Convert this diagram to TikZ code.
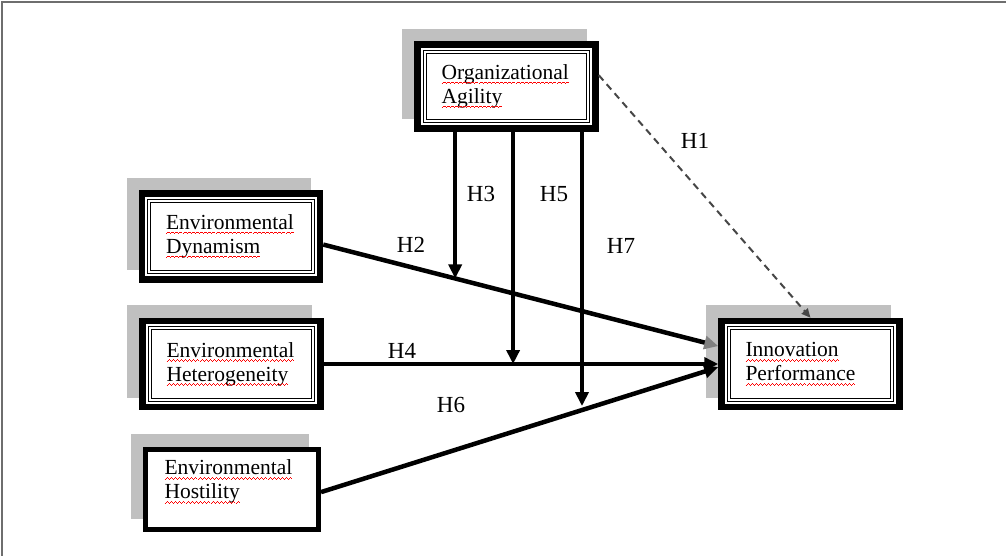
\documentclass[tikz,border=0pt]{standalone}
\usepackage{fontspec}
\setmainfont{Liberation Serif}
\usetikzlibrary{arrows.meta,backgrounds}

% red spell-check wave under a word
\newsavebox\wordbox
\newcommand\wavebit{\rule[-4.4pt]{1pt}{.8pt}\rule[-3.6pt]{1pt}{.8pt}\rule[-2.8pt]{1pt}{.8pt}\rule[-3.6pt]{1pt}{.8pt}}
\newcommand\wavy[1]{\leavevmode\sbox\wordbox{#1}\rlap{\usebox\wordbox}\textcolor{red}{\hbox to\wd\wordbox{\xleaders\hbox{\wavebit}\hfill}}}

\definecolor{shadowgray}{RGB}{192,192,192}
\definecolor{dashgray}{RGB}{70,70,70}
\definecolor{framegray}{RGB}{110,110,110}

\tikzset{
  factor/.style={draw, fill=white, rectangle, line width=6.5pt, minimum width=178pt, minimum height=86pt,
    inner xsep=24pt, text width=130pt, align=left, font=\fontsize{21.5}{24}\selectfont},
  hyp/.style={line width=4.5pt, -{Triangle[length=14pt,width=13pt]}},
  hlabel/.style={font=\fontsize{23}{23}\selectfont},
}

\begin{document}
\begin{tikzpicture}[x=1pt, y=-1pt]
    \useasboundingbox (0,0) rectangle (1006,556);
    \draw[framegray, line width=1.5pt] (2,556) -- (2,2) -- (1006,2);

    \node[factor, minimum height=84pt] (org) at (506.5,86.5) {\wavy{Organizational}\\\wavy{Agility}};
    \node[factor] (dyn) at (231,236.5) {\wavy{Environmental}\\\wavy{Dynamism}};
    \node[factor] (het) at (231.5,364) {\wavy{Environmental}\\\wavy{Heterogeneity}};
    \node[factor, line width=5pt, minimum width=173pt, minimum height=80pt, inner xsep=19pt, text width=135pt, text depth=43pt] (hos) at (232,489) {\wavy{Environmental}\\\wavy{Hostility}};
    \node[factor] (inno) at (810.5,364) {\wavy{Innovation}\\\wavy{Performance}};

    % inner thin double frames
    \foreach \b in {org,dyn,het,inno}
        \draw[line width=0.9pt, double, double distance=2pt] ([shift={(10.5,10.5)}]\b.north west) rectangle ([shift={(-10.5,-10.5)}]\b.south east);

    % grey shadows behind the boxes
    \begin{scope}[on background layer]
        \foreach \b in {org,dyn,het,hos,inno}
            \fill[shadowgray] ([shift={(-12,-12.5)}]\b.north west) rectangle ([shift={(-12,-12.5)}]\b.south east);
    \end{scope}

    \draw[dashgray, line width=2pt, dash pattern=on 7pt off 5pt, -{Triangle[length=9pt,width=8pt]}] (org.7) -- (inno.north);
    \draw[hyp, -{Triangle[length=14pt,width=13pt,color=black!50]}] (dyn.-5) -- coordinate[pos=0.334] (m3) (inno.169);
    \draw[hyp] (het.east) -- coordinate[pos=0.48] (m5) (inno.west);
    \draw[hyp] (hos.-2) -- coordinate[pos=0.657] (m7) (inno.182);

    \draw[hyp] (org.south -| m3) -- (m3);
    \draw[hyp] (org.south -| m5) -- (m5);
    \draw[hyp, shorten >=4pt] (org.south -| m7) -- (m7);

    \node[hlabel] (l1) at (695,141) {H1};
    \node[hlabel] (l2) at (411,245) {H2};
    \node[hlabel] (l3) at (481,194) {H3};
    \node[hlabel] (l4) at (402,351) {H4};
    \node[hlabel] (l5) at (554,194) {H5};
    \node[hlabel] (l6) at (451,405) {H6};
    \node[hlabel] (l7) at (621,246) {H7};
\end{tikzpicture}
\end{document}
